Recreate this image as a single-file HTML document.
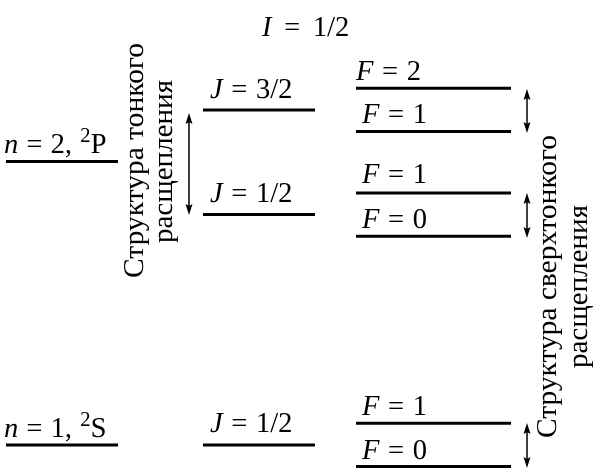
<!DOCTYPE html>
<html><head><meta charset="utf-8"><style>
html,body{margin:0;padding:0;background:#fff;width:600px;height:474px;overflow:hidden}
svg{display:block}
text{font-family:"Liberation Serif",serif;font-size:28.5px;fill:#000;word-spacing:1.5px}
.i{font-style:italic}
.r{font-size:28px;word-spacing:0}
</style></head><body>
<svg width="600" height="474" viewBox="0 0 600 474" xmlns="http://www.w3.org/2000/svg">
<defs><g id="h"><path d="M0 0L-3.5 11L0 9L3.5 11Z" fill="#000"/></g></defs>
<g stroke="#000" fill="none">
<path d="M6 161.500H118M203 110H315M203 214.500H315M6 445H118M203 445H315" stroke-width="3"/>
<path d="M356 88.300H511M356 131.500H511M356 193H511M356 236.300H511M356 423.300H511M356 466.500H511" stroke-width="3"/>
<path d="M189 116V212M527 92V130M527 197V235M527 427V465" stroke-width="1.500"/>
</g>
<use href="#h" transform="translate(189 113)"/><use href="#h" transform="translate(189 215) scale(1 -1)"/>
<use href="#h" transform="translate(527 89)"/><use href="#h" transform="translate(527 133) scale(1 -1)"/>
<use href="#h" transform="translate(527 193)"/><use href="#h" transform="translate(527 238) scale(1 -1)"/>
<use href="#h" transform="translate(527 423)"/><use href="#h" transform="translate(527 468) scale(1 -1)"/>
<text x="262" y="36" style="word-spacing:5.5px"><tspan class="i">I</tspan> = 1/2</text>
<text x="4" y="153" style="word-spacing:1px"><tspan class="i">n</tspan> = 2, <tspan font-size="21" dy="-11">2</tspan><tspan dy="11">P</tspan></text>
<text x="4" y="437" style="word-spacing:1px"><tspan class="i">n</tspan> = 1, <tspan font-size="21" dy="-11">2</tspan><tspan dy="11">S</tspan></text>
<text x="210" y="98"><tspan class="i">J</tspan> = 3/2</text>
<text x="210" y="202"><tspan class="i">J</tspan> = 1/2</text>
<text x="210" y="432"><tspan class="i">J</tspan> = 1/2</text>
<text x="356" y="80"><tspan class="i">F</tspan> = 2</text>
<text x="362" y="123"><tspan class="i">F</tspan> = 1</text>
<text x="362" y="183"><tspan class="i">F</tspan> = 1</text>
<text x="362" y="228"><tspan class="i">F</tspan> = 0</text>
<text x="362" y="415"><tspan class="i">F</tspan> = 1</text>
<text x="362" y="459"><tspan class="i">F</tspan> = 0</text>
<text class="r" transform="translate(143 278) rotate(-90)" textLength="235" lengthAdjust="spacingAndGlyphs">Структура тонкого</text>
<text class="r" transform="translate(172 243) rotate(-90)" textLength="163" lengthAdjust="spacingAndGlyphs">расщепления</text>
<text class="r" transform="translate(556 438) rotate(-90)" textLength="303" lengthAdjust="spacingAndGlyphs">Структура сверхтонкого</text>
<text class="r" transform="translate(587 368) rotate(-90)" textLength="163" lengthAdjust="spacingAndGlyphs">расщепления</text>
</svg>
</body></html>
